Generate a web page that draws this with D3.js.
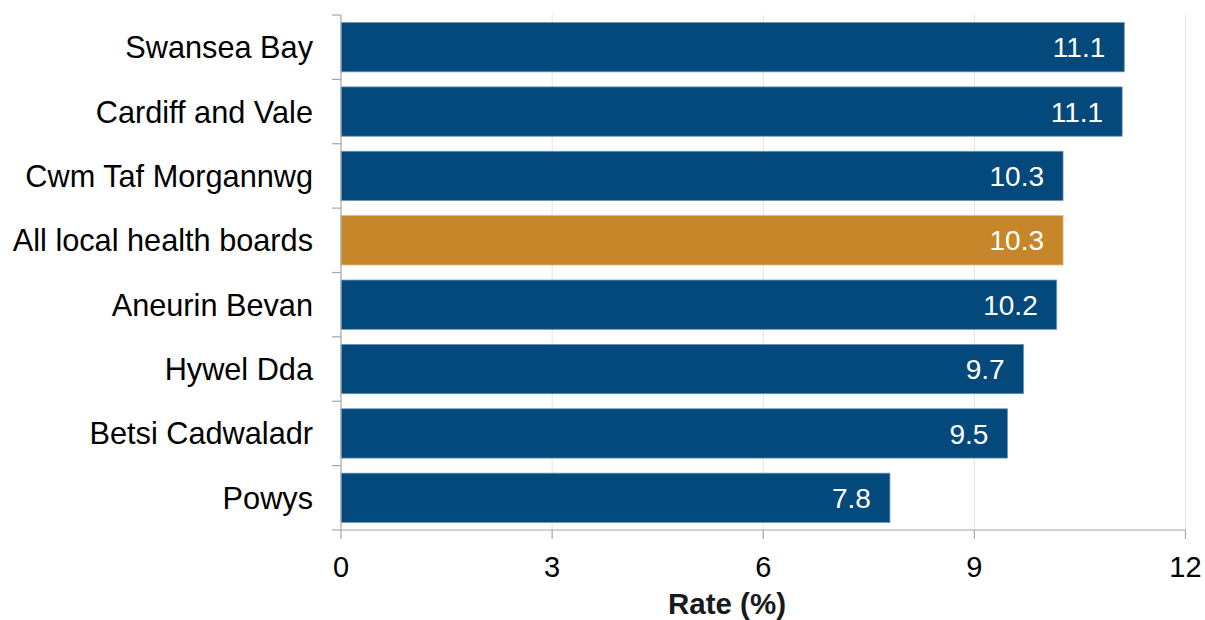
<!DOCTYPE html>
<html>
<head>
<meta charset="utf-8">
<script src="https://cdn.jsdelivr.net/npm/d3@7"></script>
<style>
  html, body { margin: 0; padding: 0; background: #fff; }
  svg { display: block; font-family: "Liberation Sans", Arial, sans-serif; }
</style>
</head>
<body>
<svg id="chart" width="1205" height="620"></svg>
<script>
const categories = ["Swansea Bay", "Cardiff and Vale", "Cwm Taf Morgannwg", "All local health boards", "Aneurin Bevan", "Hywel Dda", "Betsi Cadwaladr", "Powys"];
const values = [11.13, 11.10, 10.26, 10.26, 10.17, 9.70, 9.47, 7.80];
const highlight = ["All local health boards"];
const xTicks = [0, 3, 6, 9, 12];
const xTitle = "Rate (%)";

const svg = d3.select("#chart");
const margin = { left: 341, top: 15, right: 20, bottom: 90 };
const x0 = margin.left, x1 = 1185.5, y0 = margin.top, y1 = 530;

const x = d3.scaleLinear().domain([0, 12]).range([x0, x1]);
const y = d3.scaleBand().domain(categories).range([y0, y1]).paddingInner(0.234).paddingOuter(0.117);

// gridlines
svg.append("g").selectAll("line").data(xTicks.filter(d => d > 0)).join("line")
  .attr("x1", d => x(d)).attr("x2", d => x(d))
  .attr("y1", y0).attr("y2", y1)
  .attr("stroke", "#e3e3e3").attr("stroke-width", 1);

// bars
svg.append("g").selectAll("rect").data(categories).join("rect")
  .attr("x", x(0))
  .attr("y", d => y(d))
  .attr("width", (d, i) => x(values[i]) - x(0))
  .attr("height", y.bandwidth())
  .attr("fill", d => highlight.includes(d) ? "#c8862a" : "#03497b")
  .attr("stroke", d => highlight.includes(d) ? "#dcb47e" : "#6f97b8")
  .attr("stroke-width", 0.8);

// value labels
const fmt = d3.format(".1f");
svg.append("g").selectAll("text").data(categories).join("text")
  .attr("x", (d, i) => x(values[i]) - 19)
  .attr("y", d => y(d) + y.bandwidth() / 2)
  .attr("dy", "0.36em")
  .attr("text-anchor", "end")
  .attr("fill", "#fff")
  .attr("font-size", 28)
  .text((d, i) => fmt(values[i]));

// y axis
const yAxis = svg.append("g");
yAxis.append("line").attr("x1", x0).attr("x2", x0).attr("y1", y0).attr("y2", y1)
  .attr("stroke", "#a6a6a6").attr("stroke-width", 1.2);
const bounds = d3.range(categories.length + 1).map(i => y0 + i * (y1 - y0) / categories.length);
yAxis.selectAll("line.tick").data(bounds).join("line").attr("class", "tick")
  .attr("x1", x0 - 9).attr("x2", x0).attr("y1", d => d).attr("y2", d => d)
  .attr("stroke", "#a6a6a6").attr("stroke-width", 1.2);
yAxis.selectAll("text").data(categories).join("text")
  .attr("x", x0 - 28)
  .attr("y", d => y(d) + y.bandwidth() / 2)
  .attr("dy", "0.36em")
  .attr("text-anchor", "end")
  .attr("fill", "#000")
  .attr("font-size", 30.7)
  .text(d => d);

// x axis
const xAxis = svg.append("g");
xAxis.append("line").attr("x1", x0).attr("x2", x1).attr("y1", y1).attr("y2", y1)
  .attr("stroke", "#a6a6a6").attr("stroke-width", 1.2);
xAxis.selectAll("line.tick").data(xTicks).join("line").attr("class", "tick")
  .attr("x1", d => x(d)).attr("x2", d => x(d)).attr("y1", y1).attr("y2", y1 + 9)
  .attr("stroke", "#a6a6a6").attr("stroke-width", 1.2);
xAxis.selectAll("text").data(xTicks).join("text")
  .attr("x", d => x(d))
  .attr("y", 577)
  .attr("text-anchor", "middle")
  .attr("fill", "#000")
  .attr("font-size", 29)
  .text(d => d);

svg.append("text")
  .attr("x", 727).attr("y", 614)
  .attr("text-anchor", "middle")
  .attr("font-weight", "bold")
  .attr("font-size", 29.5)
  .attr("fill", "#1a1a1a")
  .text(xTitle);
</script>
</body>
</html>
